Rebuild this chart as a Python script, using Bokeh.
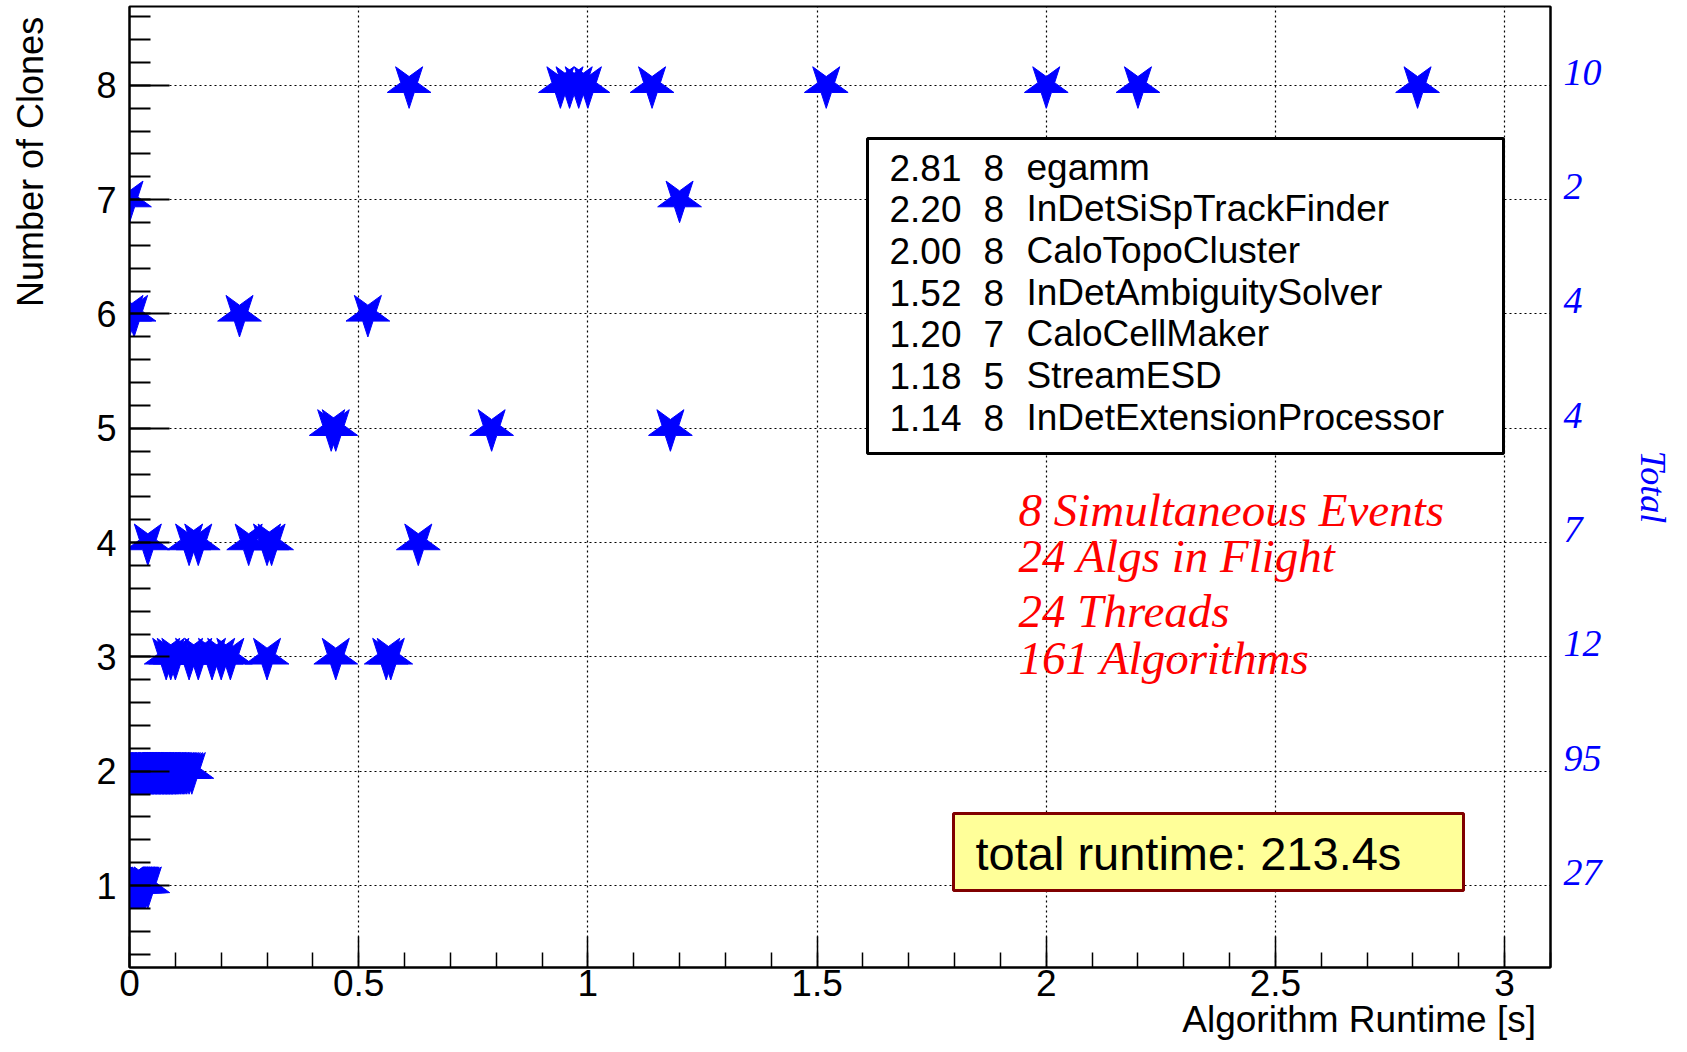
import numpy as np
from bokeh.plotting import figure
from bokeh.models import (Range1d, LinearAxis, FixedTicker, NumeralTickFormatter,
                          Label, BoxAnnotation, ColumnDataSource)
from bokeh.embed import file_html
from bokeh.resources import INLINE

# ---------------- data ----------------
runtime_clones_8 = [0.61, 0.94, 0.96, 0.98, 1.00, 1.14, 1.52, 2.00, 2.20, 2.81]
runtime_clones_7 = [0.00, 1.20]
runtime_clones_6 = [0.00, 0.01, 0.24, 0.52]
runtime_clones_5 = [0.44, 0.45, 0.79, 1.18]
runtime_clones_4 = [0.04, 0.13, 0.15, 0.26, 0.30, 0.31, 0.63]
runtime_clones_3 = [0.08, 0.09, 0.10, 0.13, 0.15, 0.18, 0.20, 0.22, 0.30, 0.45, 0.56, 0.57]
runtime_clones_2 = [
    0.001, 0.003, 0.004, 0.006, 0.009, 0.010, 0.012, 0.013, 0.016, 0.017,
    0.019, 0.020, 0.021, 0.023, 0.024, 0.026, 0.027, 0.029, 0.030, 0.031,
    0.033, 0.034, 0.036, 0.037, 0.038, 0.040, 0.041, 0.042, 0.044, 0.045,
    0.046, 0.048, 0.049, 0.050, 0.052, 0.053, 0.054, 0.056, 0.057, 0.058,
    0.060, 0.061, 0.063, 0.064, 0.065, 0.067, 0.068, 0.069, 0.071, 0.072,
    0.073, 0.075, 0.076, 0.078, 0.079, 0.080, 0.082, 0.083, 0.085, 0.086,
    0.088, 0.089, 0.091, 0.092, 0.094, 0.095, 0.097, 0.099, 0.101, 0.103,
    0.105, 0.107, 0.110, 0.112, 0.115, 0.118, 0.121, 0.125, 0.130, 0.136,
    0.002, 0.008, 0.015, 0.022, 0.028, 0.035, 0.043, 0.051, 0.059, 0.066,
    0.074, 0.081, 0.087, 0.093, 0.100,
]
runtime_clones_1 = [0.000, 0.001, 0.002, 0.003, 0.004, 0.005, 0.006, 0.008, 0.009,
                    0.010, 0.011, 0.012, 0.014, 0.015, 0.016, 0.018, 0.019, 0.020,
                    0.022, 0.023, 0.025, 0.026, 0.028, 0.030, 0.032, 0.035, 0.040]

clone_counts = [1, 2, 3, 4, 5, 6, 7, 8]
runtimes = [runtime_clones_1, runtime_clones_2, runtime_clones_3, runtime_clones_4,
            runtime_clones_5, runtime_clones_6, runtime_clones_7, runtime_clones_8]
totals = [27, 95, 12, 7, 4, 4, 2, 10]

x_tick_values = [0, 0.5, 1, 1.5, 2, 2.5, 3]
y_tick_values = [1, 2, 3, 4, 5, 6, 7, 8]

x_title = "Algorithm Runtime [s]"
y_title = "Number of Clones"
legend_time = ["2.81", "2.20", "2.00", "1.52", "1.20", "1.18", "1.14"]
legend_clones = ["8", "8", "8", "8", "7", "5", "8"]
legend_names = ["egamm", "InDetSiSpTrackFinder", "CaloTopoCluster", "InDetAmbiguitySolver",
                "CaloCellMaker", "StreamESD", "InDetExtensionProcessor"]
info_lines = ["8 Simultaneous Events", "24 Algs in Flight", "24 Threads", "161 Algorithms"]
total_runtime_text = "total runtime: 213.4s"

# ---------------- layout ----------------
W, H = 1687, 1052
FL, FR, FT, FB = 129, 1550, 6, 967
X0, X1 = 0.0, 3.1
Y0, Y1 = 0.283, 8.69
TXT_SHIFT = 15  # label baseline correction (px)
NBSP = "\u00a0"
X_TITLE_PAD = 101   # shifts the centred axis title to the right end (ROOT style)
Y_TITLE_PAD = 65    # shifts the centred axis title to the top end


def sx(px):
    return X0 + (px - FL) / (FR - FL) * (X1 - X0)


def sy(py):
    return Y1 - (py - FT) / (FB - FT) * (Y1 - Y0)


def sy_txt(py):
    return sy(py - TXT_SHIFT)


xs, ys = [], []
for c, rt in zip(clone_counts, runtimes):
    xs.extend(rt)
    ys.extend([c] * len(rt))
src = ColumnDataSource(data=dict(x=xs, y=ys))

p = figure(width=W, height=H, output_backend="svg", toolbar_location=None,
           x_range=Range1d(X0, X1), y_range=Range1d(Y0, Y1),
           min_border_left=FL, min_border_right=W - FR,
           min_border_top=FT, min_border_bottom=H - FB)
p.background_fill_color = "white"
p.border_fill_color = "white"
p.outline_line_color = "black"
p.outline_line_width = 2

SANS = "Liberation Sans"
SERIF = "Liberation Serif"

x_minor = [round(0.1 * i, 2) for i in range(0, 32)]
y_minor = [round(0.2 * i, 2) for i in range(2, 44)]
xt = FixedTicker(ticks=x_tick_values, minor_ticks=x_minor)
yt = FixedTicker(ticks=y_tick_values, minor_ticks=y_minor)

xa = p.xaxis[0]
xa.ticker = xt
xa.formatter = NumeralTickFormatter(format="0.[0]")
xa.major_label_text_font = SANS
xa.major_label_text_font_size = "37px"
xa.major_label_text_color = "black"
xa.major_label_standoff = 2
xa.major_tick_in = 31
xa.major_tick_out = 0
xa.minor_tick_in = 15
xa.minor_tick_out = 0
xa.axis_line_width = 2
xa.major_tick_line_width = 1.5
xa.minor_tick_line_width = 1.5
xa.axis_label = NBSP * X_TITLE_PAD + x_title
xa.axis_label_text_font = SANS
xa.axis_label_text_font_style = "normal"
xa.axis_label_text_font_size = "37px"
xa.axis_label_text_color = "black"
xa.axis_label_standoff = 0

ya = p.yaxis[0]
ya.ticker = yt
ya.major_label_text_font = SANS
ya.major_label_text_font_size = "36px"
ya.major_label_text_color = "black"
ya.major_label_standoff = 13
ya.major_tick_in = 40
ya.major_tick_out = 0
ya.minor_tick_in = 21
ya.minor_tick_out = 0
ya.axis_line_width = 2
ya.major_tick_line_width = 2
ya.minor_tick_line_width = 2
ya.axis_label = NBSP * Y_TITLE_PAD + y_title
ya.axis_label_text_font = SANS
ya.axis_label_text_font_style = "normal"
ya.axis_label_text_font_size = "36px"
ya.axis_label_text_color = "black"
ya.axis_label_standoff = 42

p.xgrid.ticker = xt
p.ygrid.ticker = yt
for g in (p.xgrid, p.ygrid):
    g.grid_line_color = "black"
    g.grid_line_dash = "2 3"
    g.grid_line_width = 1.2

# right axis: totals per clone count, drawn slightly above each row as in ROOT
RIGHT_SHIFT = 0.114
p.extra_y_ranges = {"totals": Range1d(Y0 - RIGHT_SHIFT, Y1 - RIGHT_SHIFT)}
ra = LinearAxis(y_range_name="totals", ticker=FixedTicker(ticks=y_tick_values),
                major_label_overrides={c: str(t) for c, t in zip(clone_counts, totals)})
ra.major_label_text_font = SERIF
ra.major_label_text_font_style = "italic"
ra.major_label_text_font_size = "38px"
ra.major_label_text_color = "blue"
ra.major_label_standoff = 13
ra.major_tick_in = 0
ra.major_tick_out = 0
ra.minor_tick_in = 0
ra.minor_tick_out = 0
ra.axis_line_color = "black"
ra.axis_line_width = 2
ra.axis_label = "Total"
ra.axis_label_text_font = SERIF
ra.axis_label_text_font_style = "italic"
ra.axis_label_text_font_size = "36px"
ra.axis_label_text_color = "blue"
ra.axis_label_standoff = 28
p.add_layout(ra, "right")

# stars (inverted, as in the ROOT marker)
p.scatter("x", "y", source=src, marker="star", size=46, angle=np.pi,
          fill_color="blue", line_color="blue", line_width=1)

# legend box with the slowest algorithms
p.add_layout(BoxAnnotation(left=sx(867), right=sx(1503), top=sy(138), bottom=sy(453),
                           fill_color="white", fill_alpha=1.0,
                           line_color="black", line_width=3, line_alpha=1.0))
baselines = [182, 223, 265, 307, 348, 390, 432]
for t, c, n, b in zip(legend_time, legend_clones, legend_names, baselines):
    for txt, px in ((t, 889), (c, 983), (n, 1026)):
        p.add_layout(Label(x=sx(px), y=sy_txt(b), text=txt, text_align="left",
                           text_baseline="alphabetic", text_font=SANS,
                           text_font_size="37px", text_color="black"))

# red info text
for txt, b in zip(info_lines, [524, 570, 625, 672]):
    p.add_layout(Label(x=sx(1018), y=sy_txt(b), text=txt, text_align="left",
                       text_baseline="alphabetic", text_font=SERIF,
                       text_font_style="italic", text_font_size="47px",
                       text_color="red"))

# total runtime box
p.add_layout(BoxAnnotation(left=sx(953), right=sx(1463), top=sy(813), bottom=sy(890),
                           fill_color="#ffff99", fill_alpha=1.0,
                           line_color="#800000", line_width=3, line_alpha=1.0))
p.add_layout(Label(x=sx(975), y=sy_txt(868), text=total_runtime_text, text_align="left",
                   text_baseline="alphabetic", text_font=SANS,
                   text_font_size="47px", text_color="black"))

open("out.html", "w").write(file_html(p, INLINE))
